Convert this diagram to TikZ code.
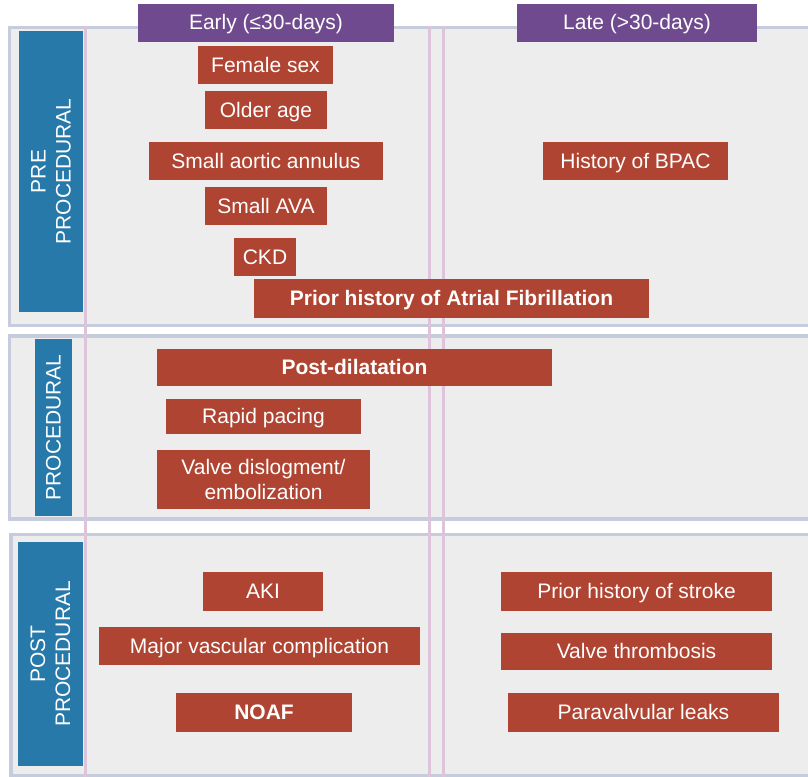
\documentclass[tikz,border=0pt]{standalone}
\usepackage{fontspec}
\setmainfont{Liberation Sans}
\usetikzlibrary{positioning}

\definecolor{bandfill}{HTML}{ECEDEC}
\definecolor{bandline}{HTML}{C6CBDE}
\definecolor{gridpink}{HTML}{DEC4DA}
\definecolor{rowblue}{HTML}{2779AA}
\definecolor{headpurple}{HTML}{704A8E}
\definecolor{factorred}{HTML}{B04432}

\begin{document}
\begin{tikzpicture}[
		x=1pt, y=-1pt,
		band/.style={draw=bandline, line width=3.2pt, fill=bandfill},
		gridline/.style={draw=gridpink, line width=3pt},
		box/.style={rectangle, inner sep=0pt, text=white},
		oneline/.style={text height=16pt, text depth=2pt},
		rowlabel/.style={box, fill=rowblue, rotate=90, align=center},
		colhead/.style={box, oneline, fill=headpurple, minimum height=38pt},
		factor/.style={box, oneline, fill=factorred, minimum height=38pt},
		twofactor/.style={box, fill=factorred, align=center},
		keyfactor/.style={factor, font=\fontsize{21}{25}\selectfont\bfseries},
		font=\fontsize{21}{25}\selectfont
	]

	\useasboundingbox (0,0) rectangle (808,776);
	\clip (0,0) rectangle (808,776);

	% row bands
	\draw[band] (9.5,27.5) rectangle (812,325.5);
	\draw[band] (9.5,336) rectangle (812,519);
	\draw[band] (11,534.5) rectangle (812,775.5);

	% column separators
	\foreach \gx in {85.5, 429.5, 443}
		\draw[gridline] (\gx,26) -- (\gx,778);

	% row labels
	\node[rowlabel, minimum width=281pt, minimum height=64pt] (pre) at (51,171.5) {PRE\\PROCEDURAL};
	\node[rowlabel, minimum width=177pt, minimum height=37pt] (proc) at (53.5,427.5) {PROCEDURAL};
	\node[rowlabel, minimum width=224pt, minimum height=65pt] (post) at (50.5,654) {POST\\PROCEDURAL};

	% column headers
	\node[colhead, minimum width=256pt] (early) at (266,23) {Early (≤30-days)};
	\node[colhead, minimum width=240pt] (late) at (637,23) {Late (>30-days)};

	% pre procedural
	\node[factor, minimum width=135pt] (female) at (265.5,65) {Female sex};
	\node[factor, minimum width=122pt] (older) at (266,110) {Older age};
	\node[factor, minimum width=234pt] (annulus) at (266,161) {Small aortic annulus};
	\node[factor, minimum width=122pt] (ava) at (266,206) {Small AVA};
	\node[factor, minimum width=62pt] (ckd) at (265,257) {CKD};
	\node[keyfactor, minimum width=395pt, minimum height=39pt] (afib) at (451.5,298.5) {Prior history of Atrial Fibrillation};
	\node[factor, minimum width=185pt] (bpac) at (635.5,161) {History of BPAC};

	% procedural
	\node[keyfactor, minimum width=395pt, minimum height=37pt] (postdil) at (354.5,367.5) {Post-dilatation};
	\node[factor, minimum width=195pt, minimum height=35pt] (pacing) at (263.5,416.5) {Rapid pacing};
	\node[twofactor, minimum width=213pt, minimum height=59pt] (dislodg) at (263.5,479.5) {Valve dislogment/\\embolization};

	% post procedural
	\node[factor, minimum width=120pt, minimum height=39pt] (aki) at (263,591.5) {AKI};
	\node[factor, minimum width=321pt] (vascular) at (259.5,646) {Major vascular complication};
	\node[keyfactor, minimum width=176pt, minimum height=39pt] (noaf) at (264,712.5) {NOAF};
	\node[factor, minimum width=271pt, minimum height=39pt] (stroke) at (636.5,591.5) {Prior history of stroke};
	\node[factor, minimum width=271pt, minimum height=37pt] (thromb) at (636.5,651.5) {Valve thrombosis};
	\node[factor, minimum width=271pt, minimum height=39pt] (leaks) at (643.5,712.5) {Paravalvular leaks};

\end{tikzpicture}
\end{document}
